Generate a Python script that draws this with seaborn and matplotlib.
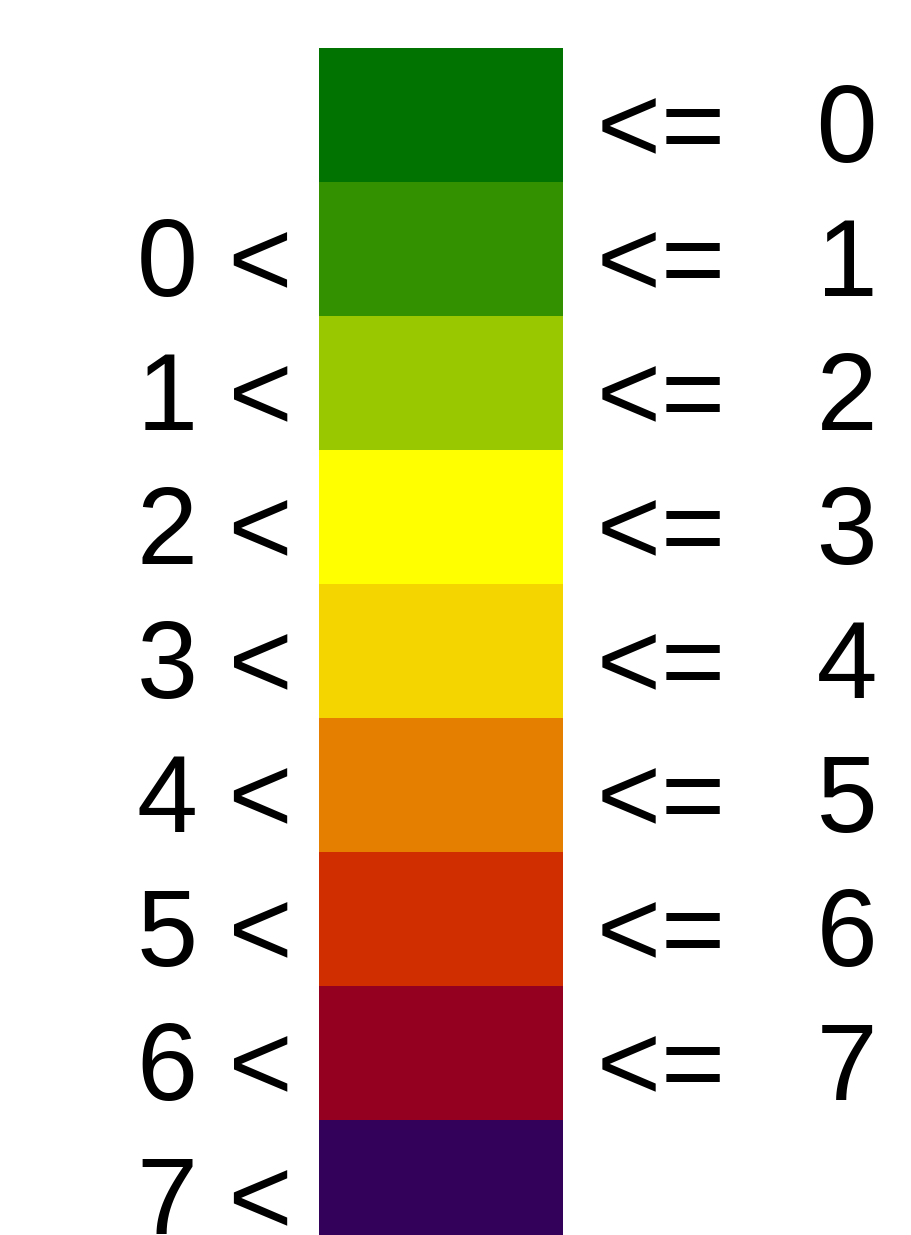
import pandas as pd
import seaborn as sns
import matplotlib.pyplot as plt
from matplotlib.colors import ListedColormap

# class legend: 9 bins, one colour each
levels = [0, 1, 2, 3, 4, 5, 6, 7, 8]
colors = ["#007300", "#339100", "#9AC800", "#FFFF00", "#F5D500",
          "#E57F00", "#D02D00", "#930020", "#33005A"]
left_labels = ["", "0 <", "1 <", "2 <", "3 <", "4 <", "5 <", "6 <", "7 <"]
right_labels = ["<=   0", "<=   1", "<=   2", "<=   3", "<=   4", "<=   5", "<=   6", "<=   7", ""]

sns.set_style("white")
plt.rcParams["font.family"] = ["Liberation Sans", "DejaVu Sans"]

fig = plt.figure(figsize=(9.11, 12.35), dpi=100)
# the bar runs past the bottom edge, as in the original
ax = fig.add_axes([319 / 911, 1 - (48 + 9 * 134) / 1235, 244 / 911, 9 * 134 / 1235])

data = pd.DataFrame({"class": levels})
sns.heatmap(data, cmap=ListedColormap(colors), vmin=-0.5, vmax=8.5,
            cbar=False, ax=ax, xticklabels=False, yticklabels=False)
ax.set_xlabel("")
ax.set_ylabel("")
for s in ax.spines.values():
    s.set_visible(False)

for i, lab in enumerate(left_labels):
    ax.text(-0.11, i + 0.85, lab, ha="right", va="baseline", fontsize=79, color="black")
for i, lab in enumerate(right_labels):
    ax.text(1.14, i + 0.85, lab, ha="left", va="baseline", fontsize=79, color="black")

fig.savefig("out.png", dpi=100)
